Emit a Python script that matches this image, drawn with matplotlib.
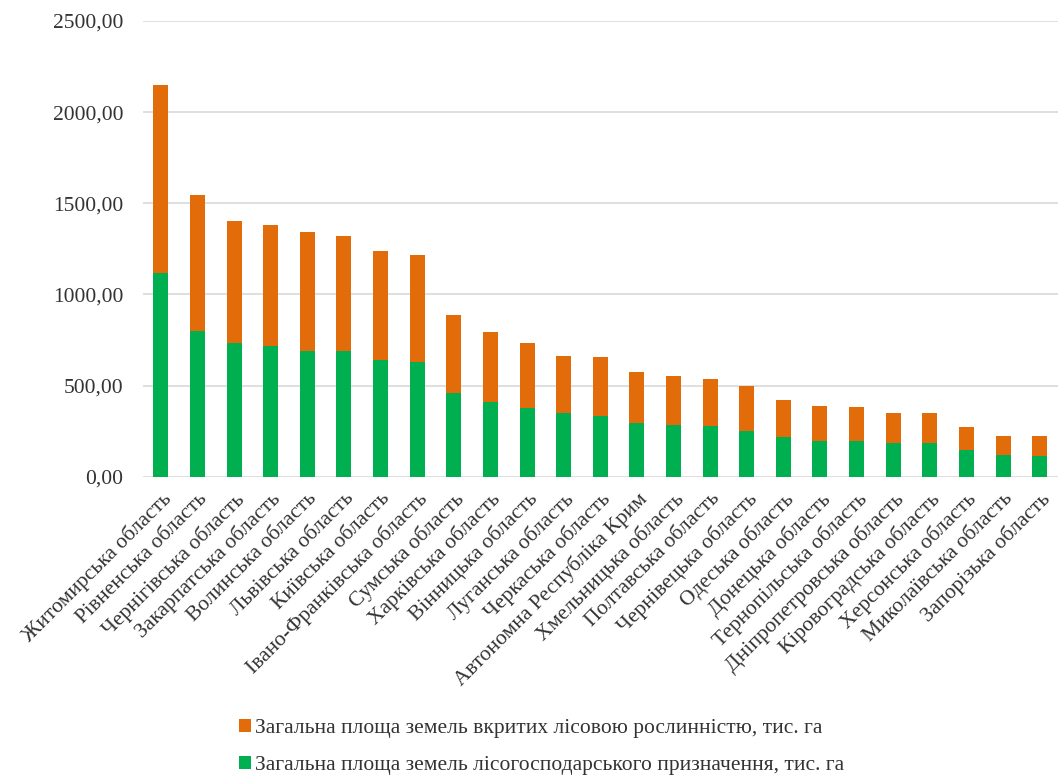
import matplotlib.pyplot as plt
import numpy as np

# Regions of Ukraine, sorted by total forest area
regions = ['Житомирська область', 'Рівненська область', 'Чернігівська область',
           'Закарпатська область', 'Волинська область', 'Львівська область',
           'Київська область', 'Івано-Франківська область', 'Сумська область',
           'Харківська область', 'Вінницька область', 'Луганська область',
           'Черкаська область', 'Автономна Республіка Крим', 'Хмельницька область',
           'Полтавська область', 'Чернівецька область', 'Одеська область',
           'Донецька область', 'Тернопільська область', 'Дніпропетровська область',
           'Кіровоградська область', 'Херсонська область', 'Миколаївська область',
           'Запорізька область']

# Forest management land, thousand ha (lower segment)
forest_land = [1116, 801, 735, 719, 690, 690, 642, 631, 457, 411, 375, 351, 335,
               293, 284, 278, 252, 218, 198, 196, 187, 183, 148, 119, 112]

# Land covered by forest vegetation, thousand ha (upper segment)
forest_cover = [1032, 746, 666, 660, 651, 632, 596, 587, 429, 381, 360, 309, 322,
                281, 270, 258, 246, 201, 192, 188, 164, 168, 125, 104, 113]

label_cover = 'Загальна площа земель вкритих лісовою рослинністю, тис. га'
label_land = 'Загальна площа земель лісогосподарського призначення, тис. га'

yticks = [0, 500, 1000, 1500, 2000, 2500]

plt.rcParams['font.family'] = ['Liberation Serif', 'DejaVu Serif']

fig = plt.figure(figsize=(10.58, 7.76), dpi=100)
ax = fig.add_axes([0.1347, 0.3857, 0.8653, 0.5873])

x = np.arange(len(regions))
bars_land = ax.bar(x, forest_land, width=0.41, color='#00B050', zorder=2)
bars_cover = ax.bar(x, forest_cover, width=0.41, bottom=forest_land,
                    color='#E36C0A', zorder=2)

ax.set_xlim(-0.5, len(regions) - 0.5)
ax.set_ylim(0, 2500)
ax.set_yticks(yticks)
ax.set_yticklabels([f'{v:.2f}'.replace('.', ',') for v in yticks])
ax.grid(axis='y', color='#D9D9D9', linewidth=1.2, zorder=0)
for side in ['top', 'right', 'left', 'bottom']:
    ax.spines[side].set_visible(False)

ax.tick_params(axis='y', length=0, pad=14, labelsize=15.5, labelcolor='#333333')
ax.tick_params(axis='x', length=0, pad=9, labelsize=15.5, labelcolor='#333333')
ax.set_xticks(x)
ax.set_xticklabels(regions, rotation=45, ha='right', va='top',
                   rotation_mode='anchor')

# Legend below the plot, orange entry first
fig.legend([bars_cover, bars_land], [label_cover, label_land],
           loc='upper left', bbox_to_anchor=(0.218, 0.085), frameon=False,
           fontsize=15.5, handlelength=0.55, handleheight=0.55,
           handletextpad=0.2, labelspacing=0.85, borderaxespad=0,
           labelcolor='#333333')

fig.savefig('out.png', dpi=100)
